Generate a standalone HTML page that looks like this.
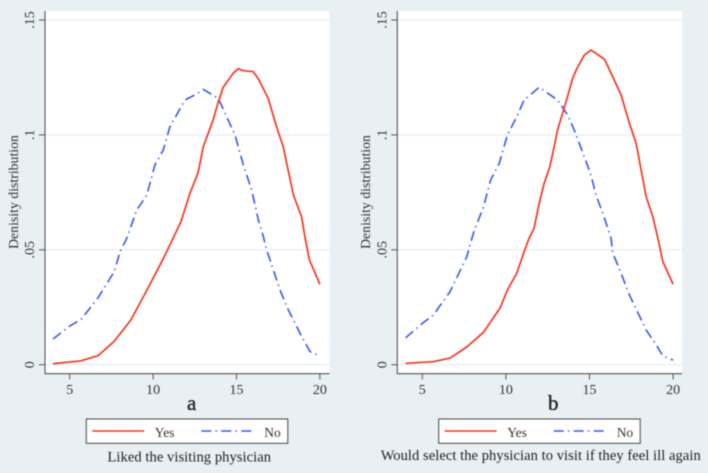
<!DOCTYPE html>
<html>
<head>
<meta charset="utf-8">
<style>
html,body{margin:0;padding:0;background:#e8f0f3;width:708px;height:473px;overflow:hidden}
svg{display:block;font-family:"Liberation Serif",serif;fill:#333;filter:blur(0.4px)}
</style>
</head>
<body>
<svg id="chart" width="708" height="473" viewBox="0 0 708 473" xmlns="http://www.w3.org/2000/svg">
  <rect x="0" y="0" width="708" height="473" fill="#e8f0f3"/>
  <g id="panel-a"></g>
  <g id="panel-b"></g>
</svg>
<script>
var xTicks = [5, 10, 15, 20];
var yTicks = [0, 0.05, 0.1, 0.15];
var yTickLabels = ['0', '.05', '.1', '.15'];

var aYesX = [4, 5.68, 6.7, 7.67, 8.67, 9.67, 10.67, 11.67, 12.21, 12.7, 13.01, 13.6, 13.91, 14.2, 14.8, 15.1, 15.4, 16, 16.3, 16.9, 17.4, 17.8, 18.41, 18.9, 19.1, 19.37, 20];
var aYesY = [0.0004, 0.0017, 0.0039, 0.0102, 0.0195, 0.033, 0.047, 0.0622, 0.0746, 0.0836, 0.0949, 0.1065, 0.1144, 0.1207, 0.1268, 0.1288, 0.128, 0.1275, 0.1246, 0.1159, 0.1036, 0.0949, 0.0739, 0.0644, 0.0557, 0.0456, 0.035];
var aNoX = [4, 5, 5.68, 6.68, 7.67, 8.02, 8.42, 9.02, 9.62, 10.11, 10.61, 11.01, 11.41, 11.91, 12.61, 13.01, 13.91, 14.41, 14.91, 15.41, 15.91, 16.31, 16.61, 16.81, 17.21, 17.61, 18.11, 18.51, 18.91, 19.41, 19.71, 20];
var aNoY = [0.0112, 0.0168, 0.0197, 0.0289, 0.0405, 0.0492, 0.055, 0.0673, 0.0738, 0.0869, 0.0934, 0.1036, 0.1087, 0.1152, 0.1178, 0.1198, 0.1159, 0.1079, 0.1, 0.0869, 0.076, 0.063, 0.0557, 0.0499, 0.0412, 0.0325, 0.0238, 0.0181, 0.0122, 0.0057, 0.0047, 0.004];

var bYesX = [4, 5.66, 6.66, 7.66, 8.66, 9.66, 10.09, 10.65, 11.09, 11.39, 11.69, 11.99, 12.29, 12.63, 12.89, 13.09, 13.63, 13.99, 14.25, 14.69, 15.09, 15.39, 15.89, 16.09, 16.39, 16.89, 17.39, 17.79, 18.39, 18.79, 19.09, 19.39, 20];
var bYesY = [0.0006, 0.0013, 0.0029, 0.0077, 0.0141, 0.0248, 0.0325, 0.0398, 0.0492, 0.055, 0.0594, 0.0702, 0.0789, 0.0862, 0.0949, 0.1021, 0.1152, 0.1246, 0.1289, 0.1347, 0.1369, 0.1355, 0.1329, 0.13, 0.1253, 0.1174, 0.105, 0.0963, 0.0731, 0.0644, 0.055, 0.0448, 0.035];
var bNoX = [4, 4.5, 5, 5.66, 6.66, 7.66, 7.94, 8.06, 8.66, 9.09, 9.6, 10.09, 10.65, 11.09, 11.99, 13.09, 13.69, 14.09, 14.69, 15.09, 15.39, 15.79, 16.29, 16.39, 16.89, 17.39, 18.39, 18.99, 19.39, 20];
var bNoY = [0.0117, 0.0148, 0.018, 0.0216, 0.0318, 0.047, 0.0543, 0.0573, 0.0687, 0.0804, 0.0876, 0.1, 0.1079, 0.1152, 0.1207, 0.1152, 0.1087, 0.1021, 0.0905, 0.0825, 0.0738, 0.066, 0.055, 0.0486, 0.0398, 0.0303, 0.0151, 0.0086, 0.0038, 0.002];

var NS = 'http://www.w3.org/2000/svg';
var RED = '#f8341f';
var BLUE = '#3558f5';
var DASH = '10 4.2 1.4 4.4';

function yScale(v) {
  return 364.7 - v * 2298;
}

function make(parent, tag, attrs, text) {
  var el = document.createElementNS(NS, tag);
  for (var k in attrs) el.setAttribute(k, attrs[k]);
  if (text !== undefined) el.textContent = text;
  parent.appendChild(el);
  return el;
}

function drawPanel(g, o, yesX, yesY, noX, noY) {
  function xScale(v) {
    return o.x5 + (v - 5) * o.unit;
  }
  var el;

  el = make(g, 'rect', {x: o.left, y: 11, width: o.right - o.left, height: 362.7, fill: '#ffffff'});
  
  

  yTicks.forEach(function (t, i) {
    var y = yScale(t);
    var grid = make(g, 'line', {x1: o.left, x2: o.right, y1: y, y2: y, stroke: '#eaf2f5', 'stroke-width': 1.6});
    
    
    var tick = make(g, 'line', {x1: o.left - 6, x2: o.left, y1: y, y2: y, stroke: '#555', 'stroke-width': 1});
    
    
    var lx = o.left - 11;
    var lab = make(g, 'text', {x: lx, y: y, 'font-size': 14, 'text-anchor': 'middle', transform: 'rotate(-90 ' + lx + ' ' + y + ')'}, yTickLabels[i]);
    
    
  });

  var ax = make(g, 'path', {d: 'M' + o.left + ' 11V373.7H' + o.right, fill: 'none', stroke: '#555', 'stroke-width': 1.1});
  
  

  xTicks.forEach(function (t) {
    var x = xScale(t);
    var tick = make(g, 'line', {x1: x, x2: x, y1: 373.7, y2: 379.5, stroke: '#555', 'stroke-width': 1});
    
    
    var lab = make(g, 'text', {x: x, y: 394, 'font-size': 14, 'text-anchor': 'middle'}, String(t));
    
    
  });

  var yesPts = yesX.map(function (v, i) { return xScale(v).toFixed(2) + ',' + yScale(yesY[i]).toFixed(2); }).join(' ');
  var noPts = noX.map(function (v, i) { return xScale(v).toFixed(2) + ',' + yScale(noY[i]).toFixed(2); }).join(' ');

  var noLine = make(g, 'polyline', {points: noPts, fill: 'none', stroke: BLUE, 'stroke-width': 1.6, 'stroke-dasharray': DASH, 'stroke-linejoin': 'round'});
  
  

  var yesLine = make(g, 'polyline', {points: yesPts, fill: 'none', stroke: RED, 'stroke-width': 1.7, 'stroke-linejoin': 'round'});
  
  

  var yt = make(g, 'text', {x: o.titleX, y: 192, 'font-size': 13.8, 'text-anchor': 'middle', transform: 'rotate(-90 ' + o.titleX + ' 192)'}, 'Denisity distribution');
  
  

  var letter = make(g, 'text', {x: o.letterX, y: 410, 'font-size': 21, 'text-anchor': 'middle', fill: '#222', stroke: '#222', 'stroke-width': 0.35}, o.letter);
  
  

  var box = make(g, 'rect', {x: o.legendX, y: 419, width: 201.5, height: 24.3, fill: '#ffffff', stroke: '#555', 'stroke-width': 1.1});
  
  

  var ly = make(g, 'line', {x1: o.legendX + 6, x2: o.legendX + 58, y1: 431, y2: 431, stroke: RED, 'stroke-width': 1.6});
  
  

  var lyt = make(g, 'text', {x: o.legendX + 68.5, y: 437, 'font-size': 13.5}, 'Yes');
  
  

  var ln = make(g, 'line', {x1: o.legendX + 115, x2: o.legendX + 167, y1: 431, y2: 431, stroke: BLUE, 'stroke-width': 1.6, 'stroke-dasharray': DASH});
  
  

  var lnt = make(g, 'text', {x: o.legendX + 178, y: 437, 'font-size': 13.5}, 'No');
  
  

  var cap = make(g, 'text', {x: o.capX, y: o.capY, 'font-size': 14.5, textLength: o.capW, lengthAdjust: 'spacing', fill: '#222'}, o.caption);
  
  
}

drawPanel(document.getElementById('panel-a'),
  {left: 45, right: 329.5, x5: 69.7, unit: 16.68, titleX: 18, letter: 'a', letterX: 191.7, legendX: 86.3, caption: 'Liked the visiting physician', capX: 107.5, capY: 461.5, capW: 163.5},
  aYesX, aYesY, aNoX, aNoY);
drawPanel(document.getElementById('panel-b'),
  {left: 397.3, right: 682, x5: 422.3, unit: 16.72, titleX: 370, letter: 'b', letterX: 553.3, legendX: 438.7, caption: 'Would select the physician to visit if they feel ill again', capX: 380.7, capY: 460, capW: 320},
  bYesX, bYesY, bNoX, bNoY);
</script>
</body>
</html>
